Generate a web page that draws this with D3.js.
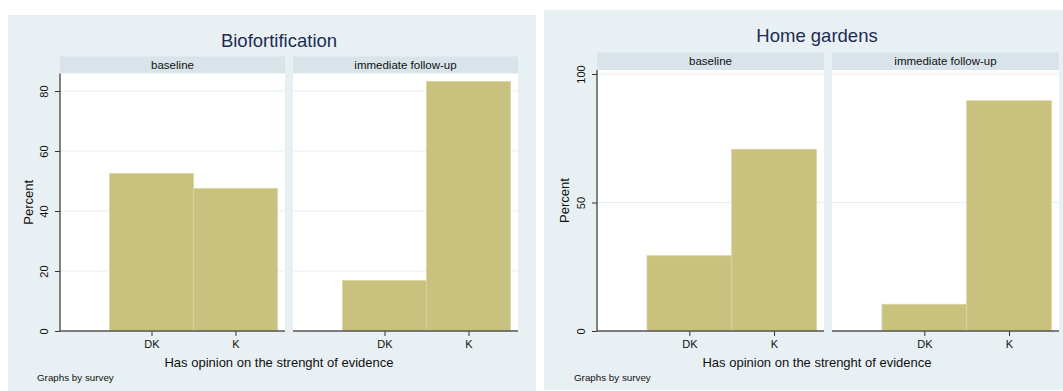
<!DOCTYPE html>
<html>
<head>
<meta charset="utf-8">
<script src="https://cdn.jsdelivr.net/npm/d3@7"></script>
<style>
  body { margin: 0; background: #fff; }
  svg { display: block; font-family: "Liberation Sans", Arial, sans-serif; }
  .domain { display: none; }
</style>
</head>
<body>
<svg width="1063" height="391"></svg>
<script>
// data
const surveys = ["baseline", "immediate follow-up"];
const opinions = ["DK", "K"];
const bioValues = [[52.5, 47.5], [16.8, 83.2]];
const homeValues = [[29.3, 70.7], [10.4, 89.6]];
const bioTicks = [0, 20, 40, 60, 80];
const homeTicks = [0, 50, 100];

let svg = d3.select("svg");

// one stata-like "by()" graph
function drawGraph(box, title, values, ticks) {
  let g = svg.append("g");

  // graph region
  g.append("rect")
    .attr("x", box.x).attr("y", box.y)
    .attr("width", box.w).attr("height", box.h)
    .attr("fill", "#e8f0f3");

  g.append("text")
    .attr("x", box.titleX).attr("y", box.titleY)
    .attr("text-anchor", "middle")
    .attr("font-size", 18.5)
    .attr("fill", "#1c2c55")
    .text(title);

  let y = d3.scaleLinear().domain([0, ticks[ticks.length - 1]])
    .range([box.zeroY, box.maxY]);

  surveys.forEach(function (s, p) {
    let x0 = box.axisX + p * (box.panelW + box.gap);
    let x = d3.scaleLinear().domain([-1.09, 1.59]).range([x0, x0 + box.panelW]);

    // strip
    g.append("rect")
      .attr("x", x0).attr("y", box.stripY)
      .attr("width", box.panelW).attr("height", box.stripH)
      .attr("fill", "#d8e4ea");
    g.append("text")
      .attr("x", x0 + box.panelW / 2).attr("y", box.stripY + box.stripH / 2 + 4)
      .attr("text-anchor", "middle")
      .attr("font-size", 11.5)
      .attr("fill", "#111")
      .text(s);

    // plot region
    let top = box.stripY + box.stripH;
    g.append("rect")
      .attr("x", x0).attr("y", top)
      .attr("width", box.panelW).attr("height", box.zeroY - top)
      .attr("fill", "#fff");

    // grid lines
    g.selectAll(null)
      .data(ticks.filter(function (t) { return t > 0; }))
      .enter()
      .append("line")
      .attr("x1", x0).attr("x2", x0 + box.panelW)
      .attr("y1", function (d) { return y(d); })
      .attr("y2", function (d) { return y(d); })
      .attr("stroke", "#e6eff2")
      .attr("stroke-width", 1);

    // bars
    g.selectAll(null)
      .data(values[p])
      .enter()
      .append("rect")
      .attr("x", function (d, i) { return x(i - 0.5); })
      .attr("width", function (d, i) { return x(i + 0.5) - x(i - 0.5); })
      .attr("y", function (d) { return y(d); })
      .attr("height", function (d) { return box.zeroY - y(d); })
      .attr("fill", "#c9c27f")
      .attr("stroke", "#d9d4a0")
      .attr("stroke-width", 0.8);

    // x axis
    let xa = g.append("g")
      .attr("transform", "translate(0," + box.zeroY + ")")
      .call(d3.axisBottom(x).tickValues([0, 1])
        .tickFormat(function (d) { return opinions[d]; })
        .tickSize(5).tickPadding(4));
    xa.selectAll("line").attr("stroke", "#333");
    xa.selectAll("text").attr("font-size", 11).attr("fill", "#111")
      .attr("font-family", "Liberation Sans, Arial, sans-serif");
    g.append("line")
      .attr("x1", x0).attr("x2", x0 + box.panelW)
      .attr("y1", box.zeroY).attr("y2", box.zeroY)
      .attr("stroke", "#555").attr("stroke-width", 1.6);
  });

  // y axis
  let ya = g.append("g")
    .attr("transform", "translate(" + box.axisX + ",0)")
    .call(d3.axisLeft(y).tickValues(ticks).tickSize(5).tickPadding(3));
  ya.selectAll("line").attr("stroke", "#333");
  ya.selectAll("text")
    .attr("font-size", 11).attr("fill", "#111")
    .attr("font-family", "Liberation Sans, Arial, sans-serif")
    .attr("transform", "rotate(-90)")
    .attr("x", 0).attr("y", -12)
    .attr("dy", 0)
    .attr("text-anchor", "middle");
  g.append("line")
    .attr("x1", box.axisX).attr("x2", box.axisX)
    .attr("y1", box.stripY + box.stripH).attr("y2", box.zeroY)
    .attr("stroke", "#333").attr("stroke-width", 1.2);

  // axis titles
  g.append("text")
    .attr("transform", "translate(" + box.ylabX + "," + ((box.stripY + box.stripH + box.zeroY) / 2) + ") rotate(-90)")
    .attr("text-anchor", "middle")
    .attr("dy", "0.35em")
    .attr("font-size", 13)
    .attr("fill", "#111")
    .text("Percent");

  g.append("text")
    .attr("x", box.titleX).attr("y", box.zeroY + 36)
    .attr("text-anchor", "middle")
    .attr("font-size", 13)
    .attr("fill", "#111")
    .text("Has opinion on the strenght of evidence");

  g.append("text")
    .attr("x", box.noteX).attr("y", box.zeroY + 50)
    .attr("font-size", 9.8)
    .attr("fill", "#111")
    .text("Graphs by survey");
}

drawGraph({
  x: 8, y: 15, w: 528, h: 380,
  titleX: 279, titleY: 47,
  axisX: 60, panelW: 225, gap: 8,
  stripY: 56.5, stripH: 17,
  zeroY: 331, maxY: 91,
  ylabX: 28, noteX: 37
}, "Biofortification", bioValues, bioTicks);

drawGraph({
  x: 544, y: 10, w: 530, h: 380,
  titleX: 817, titleY: 41.5,
  axisX: 597, panelW: 227, gap: 8,
  stripY: 52.5, stripH: 17.5,
  zeroY: 331, maxY: 74,
  ylabX: 564, noteX: 574
}, "Home gardens", homeValues, homeTicks);
</script>
</body>
</html>
